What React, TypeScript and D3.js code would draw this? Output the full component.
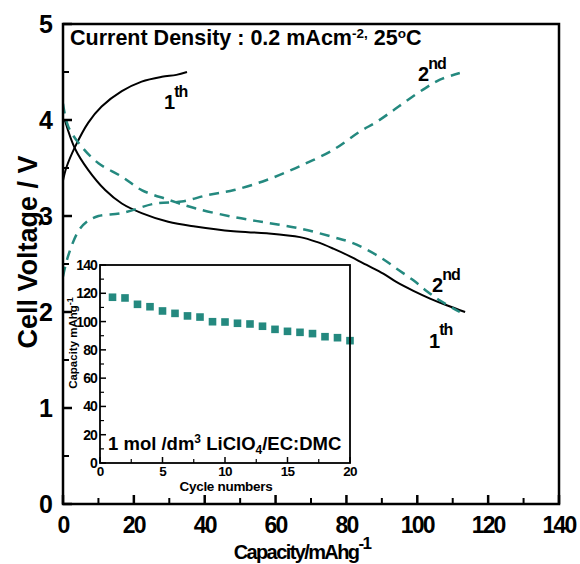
import React from "react";
import * as d3 from "d3";

const cap1Charge = [0, 1, 3.4, 7.1, 10.9, 16.6, 22.2, 27.9, 32, 35];
const v1Charge = [3.37, 3.51, 3.72, 3.97, 4.14, 4.30, 4.40, 4.45, 4.47, 4.50];

const cap1Dis = [0.5, 3.4, 7.1, 11.9, 16.6, 22.2, 29.7, 37.3, 48.1, 57.5, 66.9, 71.6, 76.3, 81, 85.7, 90.4, 94.2, 98.9, 103.6, 108.3, 113.5];
const v1Dis = [4.0, 3.70, 3.48, 3.27, 3.13, 3.03, 2.94, 2.89, 2.84, 2.82, 2.78, 2.73, 2.66, 2.58, 2.49, 2.40, 2.31, 2.22, 2.14, 2.07, 2.00];

const cap2Charge = [0, 1.5, 4.3, 6.7, 10, 16.6, 26, 33.5, 41, 48.3, 57.5, 66.9, 76.3, 83.8, 88.5, 93.2, 97, 102.2, 106.4, 112];
const v2Charge = [2.37, 2.59, 2.84, 2.94, 3.0, 3.03, 3.13, 3.15, 3.22, 3.27, 3.375, 3.52, 3.69, 3.88, 3.98, 4.10, 4.20, 4.33, 4.42, 4.49];

const cap2Dis = [0, 1.5, 5.3, 10, 16.6, 22.2, 29.7, 37.3, 48.1, 57.5, 66.9, 76.3, 81, 85.7, 90.4, 94.2, 98.9, 102.6, 106.4, 112];
const v2Dis = [4.17, 3.93, 3.72, 3.55, 3.41, 3.27, 3.17, 3.08, 2.99, 2.93, 2.87, 2.78, 2.73, 2.65, 2.55, 2.45, 2.33, 2.22, 2.12, 2.0];

const cycles = [1, 2, 3, 4, 5, 6, 7, 8, 9, 10, 11, 12, 13, 14, 15, 16, 17, 18, 19, 20];
const cycleCapacity = [117.2, 116.7, 112.2, 110.5, 107.5, 105.8, 104, 103.2, 99.9, 99.7, 98.8, 98.3, 96.7, 94.5, 93.1, 92.4, 91.5, 89.3, 88.6, 86.5];

const xTicks = [0, 20, 40, 60, 80, 100, 120, 140];
const yTicks = [0, 1, 2, 3, 4, 5];
const insetXTicks = [0, 5, 10, 15, 20];
const insetYTicks = [0, 20, 40, 60, 80, 100, 120, 140];

const TEAL = "#24897f";
const FONT = "'Liberation Sans', Arial, sans-serif";

export default function App() {
  const x = d3.scaleLinear().domain([0, 140]).range([63, 559]);
  const y = d3.scaleLinear().domain([0, 5]).range([504, 24]);
  const ix = d3.scaleLinear().domain([0, 20]).range([100, 350]);
  const iy = d3.scaleLinear().domain([0, 140]).range([463, 265]);

  const mk = (cs: number[], vs: number[]) =>
    d3
      .line<number>()
      .x((_, i) => x(cs[i]))
      .y((v) => y(v))
      .curve(d3.curveCatmullRom.alpha(0.5))(vs) as string;

  const xMinor = d3.range(10, 140, 20);
  const yMinor = d3.range(0.5, 5, 1);
  const ixMinor = d3.range(2.5, 20, 5);
  const iyMinor = d3.range(10, 140, 20);

  return (
    <svg width={580} height={564} style={{ position: "absolute", left: 0, top: 0, background: "#fff" }} fontFamily={FONT}>
      <rect width={580} height={564} fill="#fff" />
      <defs>
        <clipPath id="mainclip">
          <rect x={63} y={24} width={496} height={480} />
        </clipPath>
      </defs>

      {/* main curves */}
      <g clipPath="url(#mainclip)" fill="none">
        <path d={mk(cap1Charge, v1Charge)} stroke="#000" strokeWidth={2} />
        <path d={mk(cap1Dis, v1Dis)} stroke="#000" strokeWidth={2} />
        <path d={mk(cap2Charge, v2Charge)} stroke={TEAL} strokeWidth={2.5} strokeDasharray="10 7" />
        <path d={mk(cap2Dis, v2Dis)} stroke={TEAL} strokeWidth={2.5} strokeDasharray="10 7" />
      </g>

      {/* main frame */}
      <rect x={63} y={24} width={496} height={480} fill="none" stroke="#000" strokeWidth={2.5} />

      {/* main ticks */}
      {xTicks.map((t) => (
        <g key={"xt" + t}>
          <line x1={x(t)} x2={x(t)} y1={504} y2={495} stroke="#000" strokeWidth={2.5} />
          <text x={x(t)} y={533} textAnchor="middle" fontSize={23} fontWeight="bold" letterSpacing={-1.8}>
            {t}
          </text>
        </g>
      ))}
      {xMinor.map((t) => (
        <line key={"xm" + t} x1={x(t)} x2={x(t)} y1={504} y2={498} stroke="#000" strokeWidth={2} />
      ))}
      {yTicks.map((t) => (
        <g key={"yt" + t}>
          <line x1={63} x2={72} y1={y(t)} y2={y(t)} stroke="#000" strokeWidth={2.5} />
          <text x={53} y={y(t) + 8.5} textAnchor="end" fontSize={25} fontWeight="bold">
            {t}
          </text>
        </g>
      ))}
      {yMinor.map((t) => (
        <line key={"ym" + t} x1={63} x2={69} y1={y(t)} y2={y(t)} stroke="#000" strokeWidth={2} />
      ))}

      {/* axis titles */}
      <text x={302} y={559} textAnchor="middle" fontSize={20} fontWeight="bold" letterSpacing={-1.6}>
        Capacity/mAhg
        <tspan dy={-10} fontSize={17}>-1</tspan>
      </text>
      <text transform="translate(37,252) rotate(-90)" textAnchor="middle" fontSize={27} fontWeight="bold">
        Cell Voltage / V
      </text>

      {/* title */}
      <text x={70} y={45} fontSize={21.5} fontWeight="bold">
        Current Density : 0.2 mAcm
        <tspan dy={-7} fontSize={13.5}>-2,</tspan>
        <tspan dy={7}> 25</tspan>
        <tspan dy={-7} fontSize={13.5}>o</tspan>
        <tspan dy={7}>C</tspan>
      </text>

      {/* curve labels */}
      <g fontWeight="bold" fontSize={20} letterSpacing={-1}>
        <text x={164} y={109}>
          1<tspan dy={-12} fontSize={16}>th</tspan>
        </text>
        <text x={418} y={81}>
          2<tspan dy={-12} fontSize={16}>nd</tspan>
        </text>
        <text x={432} y={292}>
          2<tspan dy={-12} fontSize={16}>nd</tspan>
        </text>
        <text x={429} y={348}>
          1<tspan dy={-13} fontSize={16}>th</tspan>
        </text>
      </g>

      {/* inset */}
      <rect x={100} y={265} width={250} height={198} fill="#fff" stroke="none" />
      {cycles.map((c, i) => (
        <rect key={"sq" + c} x={ix(c) - 3.8} y={iy(cycleCapacity[i]) - 3.8} width={7.6} height={7.6} fill={TEAL} />
      ))}
      <rect x={100} y={265} width={250} height={198} fill="none" stroke="#000" strokeWidth={1.8} />
      {insetXTicks.map((t) => (
        <g key={"ixt" + t}>
          <line x1={ix(t)} x2={ix(t)} y1={463} y2={457} stroke="#000" strokeWidth={1.5} />
          <text x={ix(t)} y={476} textAnchor="middle" fontSize={13.5} fontWeight="bold" letterSpacing={-0.8}>
            {t}
          </text>
        </g>
      ))}
      {ixMinor.map((t) => (
        <line key={"ixm" + t} x1={ix(t)} x2={ix(t)} y1={463} y2={459} stroke="#000" strokeWidth={1.2} />
      ))}
      {insetYTicks.map((t) => (
        <g key={"iyt" + t}>
          <line x1={100} x2={106} y1={iy(t)} y2={iy(t)} stroke="#000" strokeWidth={1.5} />
          <text x={97} y={iy(t) + 5} textAnchor="end" fontSize={14} fontWeight="bold" letterSpacing={-0.9}>
            {t}
          </text>
        </g>
      ))}
      {iyMinor.map((t) => (
        <line key={"iym" + t} x1={100} x2={104} y1={iy(t)} y2={iy(t)} stroke="#000" strokeWidth={1.2} />
      ))}
      <text x={226} y={491} textAnchor="middle" fontSize={13.5} fontWeight="bold" letterSpacing={-0.3}>
        Cycle numbers
      </text>
      <text transform="translate(77,343) rotate(-90)" textAnchor="middle" fontSize={11.5} fontWeight="bold">
        Capacity mAhg
        <tspan dy={-4} fontSize={9}>-1</tspan>
      </text>
      <text x={108} y={450} fontSize={18.5} fontWeight="bold">
        1 mol /dm<tspan dy={-7} fontSize={12}>3</tspan>
        <tspan dy={7}> LiClO</tspan>
        <tspan dy={4} fontSize={12}>4</tspan>
        <tspan dy={-4}>/EC:DMC</tspan>
      </text>
    </svg>
  );
}
